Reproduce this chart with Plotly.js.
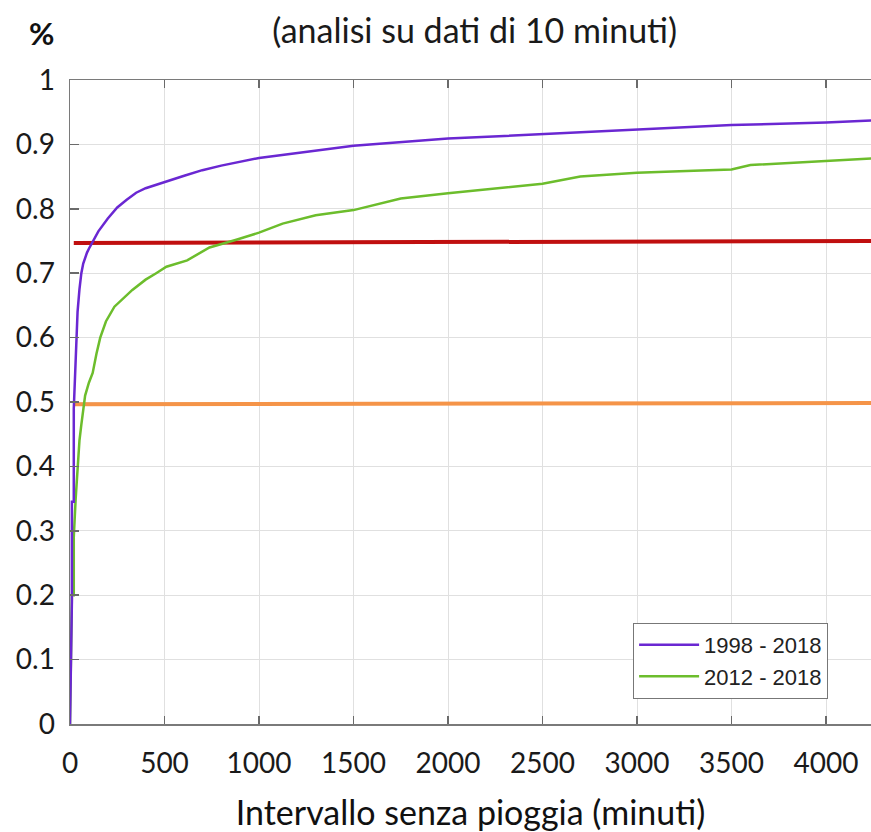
<!DOCTYPE html>
<html>
<head>
<meta charset="utf-8">
<script src="https://cdn.plot.ly/plotly-3.0.1.min.js"></script>
<style>html,body{margin:0;padding:0;background:#fff;}#chart{width:871px;height:832px;}</style>
</head>
<body>
<div id="chart"></div>
<script>
// Data
const purpleName = "1998 - 2018";
const purpleX = [0,10,10,20,20,30,40,50,60,70,80,90,100,120,150,200,250,300,350,400,500,600,700,800,1000,1200,1500,2000,2500,3000,3500,4000,4240];
const purpleY = [0,0.19,0.345,0.345,0.49,0.58,0.64,0.675,0.70,0.715,0.725,0.732,0.738,0.748,0.765,0.785,0.802,0.814,0.825,0.832,0.842,0.851,0.860,0.867,0.879,0.887,0.898,0.909,0.916,0.923,0.930,0.934,0.937];

const greenName = "2012 - 2018";
const greenX = [0,10,10,20,20,30,40,50,60,70,80,100,120,140,160,190,235,330,400,456,510,620,738,880,1000,1125,1300,1500,1750,2000,2250,2500,2700,2850,3000,3300,3500,3600,4000,4240];
const greenY = [0,0.19,0.2,0.2,0.29,0.35,0.40,0.44,0.465,0.49,0.51,0.53,0.545,0.575,0.60,0.625,0.648,0.674,0.69,0.70,0.71,0.72,0.740,0.752,0.763,0.777,0.79,0.798,0.816,0.824,0.832,0.839,0.850,0.853,0.856,0.859,0.861,0.868,0.874,0.878];

const redX = [20, 4240];
const redY = [0.747, 0.750];
const orangeX = [25, 4240];
const orangeY = [0.4965, 0.4985];

const xTicks = [0,500,1000,1500,2000,2500,3000,3500,4000];
const yTicks = [0,0.1,0.2,0.3,0.4,0.5,0.6,0.7,0.8,0.9,1];
const yTickText = ["0","0.1","0.2","0.3","0.4","0.5","0.6","0.7","0.8","0.9","1"];

const titleText = "(analisi su dati di 10 minuti)";
const xTitle = "Intervallo senza pioggia (minuti)";
const yLabel = "%";

const traces = [
  {x: redX, y: redY, mode: "lines", line: {color: "#c00f0f", width: 4}, showlegend: false, hoverinfo: "skip"},
  {x: orangeX, y: orangeY, mode: "lines", line: {color: "#f59448", width: 4}, showlegend: false, hoverinfo: "skip"},
  {x: greenX, y: greenY, name: greenName, mode: "lines", line: {color: "#6cbd2c", width: 2.5}, legendrank: 2},
  {x: purpleX, y: purpleY, name: purpleName, mode: "lines", line: {color: "#6a27d2", width: 2.5}, legendrank: 1}
];

const font = "Lato, 'Open Sans', sans-serif";
const layout = {
  width: 871, height: 832,
  paper_bgcolor: "#fff", plot_bgcolor: "#fff",
  margin: {l: 70, r: 0, t: 80, b: 108},
  title: {text: titleText, font: {family: font, size: 34, color: "#1a1a1a"}, x: 0.545, xanchor: "center", y: 0.963, yanchor: "middle"},
  xaxis: {
    range: [0, 4238], tickvals: xTicks, ticktext: xTicks.map(String),
    showgrid: true, gridcolor: "#e0e0e0", gridwidth: 1,
    showline: true, linecolor: "#7a7a7a", linewidth: 1.5, mirror: "ticks",
    ticks: "inside", ticklen: 8, tickcolor: "#6a6a6a", tickwidth: 1.5,
    tickfont: {family: font, size: 28, color: "#1a1a1a"},
    ticklabelstandoff: 14,
    zeroline: false,
    title: {text: xTitle, font: {family: font, size: 34, color: "#111"}, standoff: 25}
  },
  yaxis: {
    range: [0, 1], tickvals: yTicks, ticktext: yTickText,
    showgrid: true, gridcolor: "#e0e0e0", gridwidth: 1,
    showline: true, linecolor: "#7a7a7a", linewidth: 1.5,
    ticks: "inside", ticklen: 9, tickcolor: "#6a6a6a", tickwidth: 1.5,
    tickfont: {family: font, size: 28, color: "#1a1a1a"},
    ticklabelstandoff: 8,
    zeroline: false
  },
  legend: {
    x: 0.703, y: 0.157, xanchor: "left", yanchor: "top",
    bgcolor: "#fff", bordercolor: "#777", borderwidth: 1,
    font: {family: "'Liberation Sans', Arial, sans-serif", size: 22, color: "#222"},
    traceorder: "normal", itemwidth: 60, tracegroupgap: 0
  },
  annotations: [
    {text: "<b>" + yLabel + "</b>", xref: "paper", yref: "paper", x: -0.035, y: 1.073, xanchor: "center", yanchor: "middle", showarrow: false, font: {family: font, size: 31, color: "#111"}}
  ]
};

Plotly.newPlot("chart", traces, layout, {displayModeBar: false, staticPlot: true});
</script>
</body>
</html>
